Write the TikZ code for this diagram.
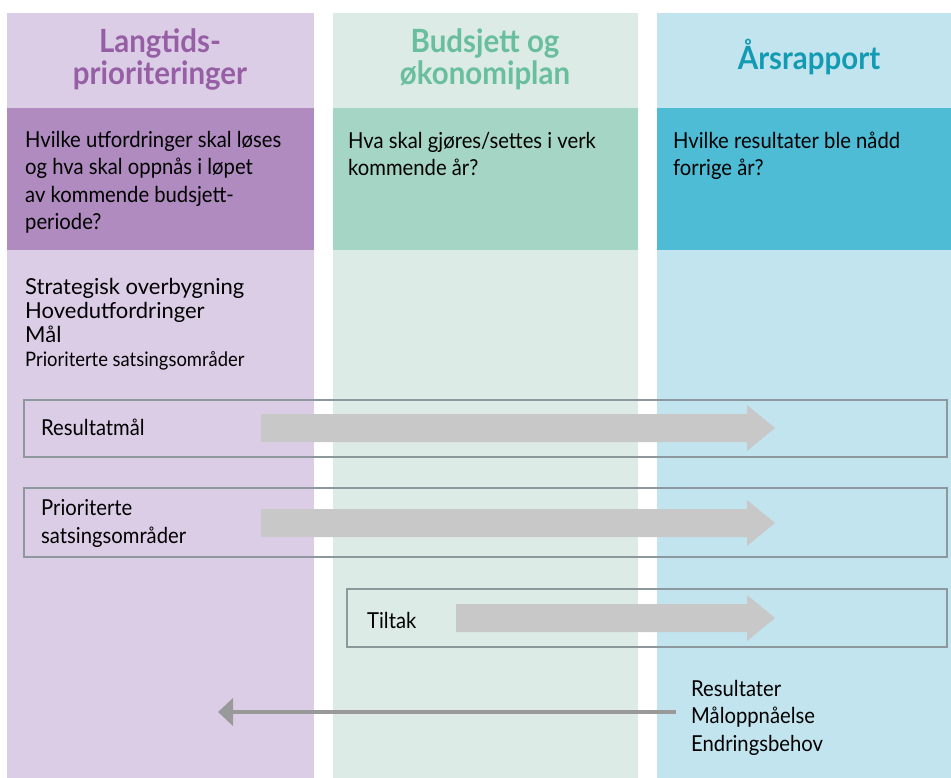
\documentclass[tikz,border=0pt]{standalone}
\usepackage{fontspec}
\setmainfont{Lato}
\newfontfamily\condfont{Lato}[FakeStretch=0.92]
\usetikzlibrary{arrows.meta}
\tikzset{>={Triangle[length=15pt,width=27pt]}}

\definecolor{lillalys}{RGB}{220,205,230}
\definecolor{lillamork}{RGB}{176,139,192}
\definecolor{lillatekst}{RGB}{150,95,165}
\definecolor{gronnlys}{RGB}{220,235,229}
\definecolor{gronnmork}{RGB}{165,214,197}
\definecolor{gronntekst}{RGB}{105,190,158}
\definecolor{blaalys}{RGB}{194,228,238}
\definecolor{blaamork}{RGB}{78,188,213}
\definecolor{blaatekst}{RGB}{20,155,180}
\definecolor{pilgraa}{RGB}{200,200,200}
\definecolor{rammegraa}{RGB}{140,152,156}

% base anchor = baseline of the last line
\tikzset{
  colhead/.style={font=\condfont\bfseries\fontsize{32}{32.5}\selectfont, align=center, anchor=base, inner sep=0},
  question/.style={font=\condfont\fontsize{22}{27.5}\selectfont, align=left, anchor=base west, inner sep=0},
  bodytext/.style={font=\fontsize{22}{24}\selectfont, align=left, anchor=base west, inner sep=0},
  boxline/.style={draw=rammegraa, line width=1.5pt},
  bigarrow/.style={fill=pilgraa},
  backarrow/.style={->, draw=black!40, line width=4pt}
}

\begin{document}
\begin{tikzpicture}[x=1pt,y=-1pt]
    \useasboundingbox (0,0) rectangle (951,778);
    % columns
    \fill[lillalys] (7,13) rectangle (314,778);
    \fill[gronnlys] (333,13) rectangle (638,778);
    \fill[blaalys] (657,13) rectangle (951,778);
    \fill[lillamork] (7,108) rectangle (314,250);
    \fill[gronnmork] (333,108) rectangle (638,250);
    \fill[blaamork] (657,108) rectangle (951,250);

    \node[colhead, text=lillatekst] (langhead) at (160,85) {Langtids-\\prioriteringer};
    \node[colhead, text=gronntekst] (budhead) at (485,85) {Budsjett og\\økonomiplan};
    \node[colhead, text=blaatekst] (arshead) at (809,70) {Årsrapport};

    \node[question] (langq) at (25,230) {Hvilke utfordringer skal løses\\og hva skal oppnås i løpet\\av kommende budsjett-\\periode?};
    \node[question] (budq) at (348,176) {Hva skal gjøres/settes i verk\\kommende år?};
    \node[question] (arsq) at (673,176) {Hvilke resultater ble nådd\\forrige år?};

    \node[bodytext] (langliste) at (25,366) {Strategisk overbygning\\Hovedutfordringer\\Mål\\{\condfont\fontsize{20}{24}\selectfont Prioriterte satsingsområder}};

    % boxes with arrows
    \draw[boxline] (24,400) rectangle (947,457);
    \draw[boxline] (24,488) rectangle (947,557);
    \draw[boxline] (347,589) rectangle (947,647);
    \foreach \xs/\ym in {261/428, 261/523, 456/618}
        \fill[bigarrow] (\xs,\ym-14) -- (747,\ym-14) -- (747,\ym-23) -- (775,\ym)
            -- (747,\ym+23) -- (747,\ym+14) -- (\xs,\ym+14) -- cycle;

    \node[question] (resmaal) at (41,435) {Resultatmål};
    \node[question] (prioritert) at (41,543) {Prioriterte\\satsingsområder};
    \node[question] (tiltak) at (367,628) {Tiltak};

    \node[question, inner xsep=15pt] (resultat) at (676,751) {Resultater\\Måloppnåelse\\Endringsbehov};
    \coordinate (tilbake) at (218,712);
    \draw[backarrow] (resultat.west |- tilbake) -- (tilbake);
\end{tikzpicture}
\end{document}
